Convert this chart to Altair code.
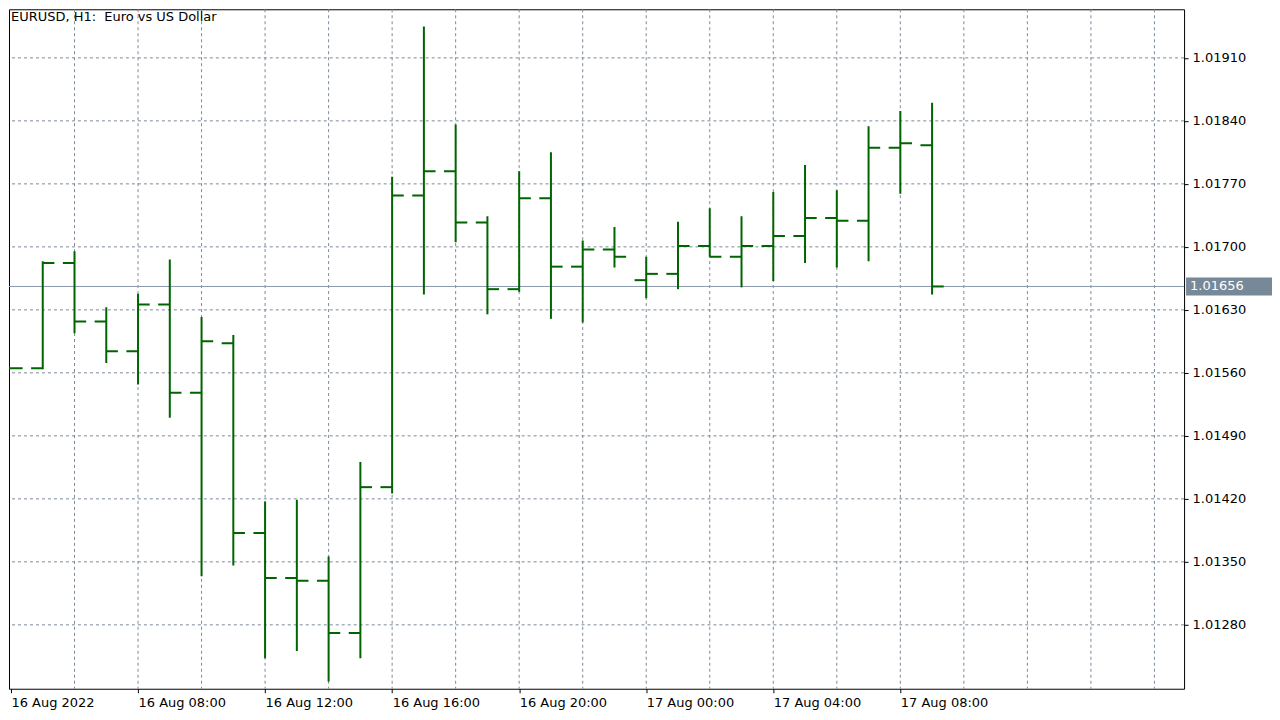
import altair as alt
import pandas as pd

hours = pd.date_range("2022-08-16 04:00", "2022-08-17 09:00", freq="h")
opens = [1.01565, 1.01565, 1.01682, 1.01617, 1.01584, 1.01636, 1.01538, 1.01593, 1.01382, 1.01332,
         1.01329, 1.01271, 1.01433, 1.01757, 1.01784, 1.01727, 1.01653, 1.01754, 1.01678, 1.01697,
         1.01663, 1.01670, 1.01701, 1.01689, 1.01701, 1.01712, 1.01732, 1.01729, 1.01810, 1.01813]
highs = [1.01565, 1.01684, 1.01695, 1.01633, 1.01648, 1.01686, 1.01622, 1.01602, 1.01417, 1.01419,
         1.01356, 1.01461, 1.01778, 1.01945, 1.01836, 1.01734, 1.01784, 1.01805, 1.01707, 1.01722,
         1.01689, 1.01728, 1.01743, 1.01734, 1.01761, 1.01791, 1.01763, 1.01834, 1.01851, 1.01860]
lows = [1.01565, 1.01564, 1.01604, 1.01571, 1.01547, 1.01510, 1.01334, 1.01346, 1.01243, 1.01251,
        1.01217, 1.01243, 1.01426, 1.01647, 1.01705, 1.01625, 1.01650, 1.01620, 1.01616, 1.01677,
        1.01643, 1.01653, 1.01689, 1.01655, 1.01662, 1.01682, 1.01677, 1.01684, 1.01759, 1.01647]
closes = [1.01565, 1.01682, 1.01617, 1.01584, 1.01636, 1.01538, 1.01595, 1.01382, 1.01332, 1.01329,
          1.01271, 1.01433, 1.01757, 1.01784, 1.01727, 1.01653, 1.01754, 1.01678, 1.01697, 1.01689,
          1.01670, 1.01701, 1.01689, 1.01701, 1.01712, 1.01732, 1.01729, 1.01810, 1.01815, 1.01656]
price_ticks = [1.01910, 1.01840, 1.01770, 1.01700, 1.01630, 1.01560, 1.01490, 1.01420, 1.01350, 1.01280]
last_price = 1.01656

GREEN = "#006400"
GRID = "#7b8a9a"

df = pd.DataFrame({"t": hours, "o": opens, "h": highs, "l": lows, "c": closes})
df["tl"] = df["t"] - pd.Timedelta(minutes=22)
df["tr"] = df["t"] + pd.Timedelta(minutes=22)

x_dom = [pd.Timestamp("2022-08-16 03:56:15").isoformat(), pd.Timestamp("2022-08-17 16:56").isoformat()]
xs = alt.Scale(type="utc", domain=x_dom)
ys = alt.Scale(domain=[1.01209, 1.01964], nice=False, zero=False)

label_times = pd.date_range("2022-08-16 04:00", "2022-08-17 16:00", freq="4h")
grid_times = pd.DataFrame({"t": pd.date_range("2022-08-16 06:00", "2022-08-17 16:00", freq="2h")})
grid_prices = pd.DataFrame({"p": price_ticks})

x_axis = alt.Axis(
    values=[t.isoformat() for t in label_times[:8]],
    labelExpr="datum.index == 0 ? '16 Aug 2022' : utcFormat(datum.value, '%d %b %H:%M')",
    labelAlign="left", labelFont="DejaVu Sans", labelFontSize=13, labelColor="black",
    grid=False, domain=False, tickColor="black", tickSize=4, labelPadding=4, title=None,
)
y_axis = alt.Axis(
    orient="right", values=price_ticks, format=".5f", grid=False, domain=False,
    labelFont="DejaVu Sans", labelFontSize=13, labelColor="black", tickColor="black",
    tickSize=4, labelPadding=4, title=None,
)

vgrid = alt.Chart(grid_times).mark_rule(color=GRID, strokeDash=[3, 3], strokeWidth=1).encode(
    x=alt.X("t:T", scale=xs, axis=x_axis)
)
hgrid = alt.Chart(grid_prices).mark_rule(color=GRID, strokeDash=[3, 3], strokeWidth=1).encode(
    y=alt.Y("p:Q", scale=ys, axis=y_axis)
)
last_df = pd.DataFrame({"p": [last_price], "lab": [f"{last_price:.5f}"]})
last_df["p_hi"] = last_df["p"] + 0.00010
last_df["p_lo"] = last_df["p"] - 0.00010
last_line = alt.Chart(last_df).mark_rule(color="#8899aa", strokeWidth=1).encode(y=alt.Y("p:Q", scale=ys))

base = alt.Chart(df)
hl = base.mark_rule(color=GREEN, strokeWidth=2, clip=True).encode(
    x=alt.X("t:T", scale=xs), y=alt.Y("h:Q", scale=ys), y2="l:Q"
)
ot = base.mark_rule(color=GREEN, strokeWidth=2, clip=True).encode(
    x=alt.X("tl:T", scale=xs), x2="t:T", y=alt.Y("o:Q", scale=ys)
)
ct = base.mark_rule(color=GREEN, strokeWidth=2, clip=True).encode(
    x=alt.X("t:T", scale=xs), x2="tr:T", y=alt.Y("c:Q", scale=ys)
)

title = alt.Chart(pd.DataFrame({"s": ["EURUSD, H1:\u00a0 Euro vs US Dollar"]})).mark_text(
    align="left", baseline="middle", font="DejaVu Sans", fontSize=13, color="black"
).encode(x=alt.value(2), y=alt.value(8), text="s:N")

tag_box = alt.Chart(last_df).mark_rect(color="#778899").encode(
    x=alt.value(1178), x2=alt.value(1264), y=alt.Y("p_hi:Q", scale=ys), y2="p_lo:Q"
)
tag = alt.Chart(last_df).mark_text(
    align="left", baseline="middle", font="DejaVu Sans", fontSize=13, color="white"
).encode(x=alt.value(1182), y=alt.Y("p:Q", scale=ys), text="lab:N")

chart = (
    alt.layer(vgrid, hgrid, last_line, hl, ot, ct, title, tag_box, tag)
    .properties(width=1176, height=680, background="white", padding={"left": 0, "top": 0, "right": 0, "bottom": 0})
    .configure_view(stroke="black", strokeWidth=1)
)
chart.save("out.html", embed_options={"renderer": "svg", "actions": False})
